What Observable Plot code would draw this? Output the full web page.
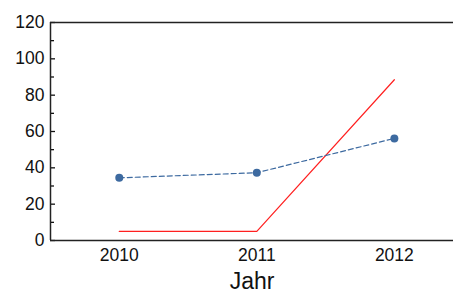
<!DOCTYPE html>
<html>
<head>
<meta charset="utf-8">
<script src="https://cdn.jsdelivr.net/npm/d3@7"></script>
<script src="https://cdn.jsdelivr.net/npm/@observablehq/plot@0.6"></script>
<style>
  html, body { margin: 0; padding: 0; background: #fff; }
  #chart svg { display: block; }
</style>
</head>
<body>
<div id="chart"></div>
<script>
const years = [2010, 2011, 2012];
const blueValues = [34.5, 37.3, 56.2];
const redValues = [5, 5, 88.5];
const yMajorTicks = [0, 20, 40, 60, 80, 100, 120];
const yMinorTicks = [10, 30, 50, 70, 90, 110];

const blue = years.map((year, i) => ({year, value: blueValues[i]}));
const red = years.map((year, i) => ({year, value: redValues[i]}));

const font = "Liberation Sans, Arial, sans-serif";

const chart = Plot.plot({
  width: 453,
  height: 293,
  marginLeft: 50,
  marginRight: 0,
  marginTop: 22,
  marginBottom: 53,
  style: {fontFamily: font, fontSize: "17px", color: "#111", background: "#fff"},
  x: {domain: [2009.5, 2012.43]},
  y: {domain: [0, 120]},
  marks: [
    Plot.axisY(yMajorTicks, {tickSize: 0, tickPadding: 6, label: null, fontSize: 17.5, tickFormat: d => String(d)}),
    Plot.axisY(yMajorTicks, {tickSize: -5, text: null, label: null, strokeWidth: 1.3}),
    Plot.axisY(yMinorTicks, {tickSize: -4, text: null, label: null, strokeWidth: 1.3}),
    Plot.axisX(years, {tickSize: 0, tickPadding: 8, label: null, fontSize: 17.5, tickFormat: d => String(d)}),
    Plot.ruleY([0], {stroke: "#222", strokeWidth: 1.5}),
    Plot.ruleY([120], {stroke: "#222", strokeWidth: 1.5}),
    Plot.ruleX([2009.5], {stroke: "#222", strokeWidth: 1.5}),
    Plot.line(red, {x: "year", y: "value", stroke: "#ff2020", strokeWidth: 1.2}),
    Plot.line(blue, {x: "year", y: "value", stroke: "#3d6aa0", strokeWidth: 1.2, strokeDasharray: "5,3"}),
    Plot.dot(blue, {x: "year", y: "value", fill: "#3d6aa0", r: 4}),
    Plot.text(["Jahr"], {frameAnchor: "bottom", dy: 48, fontSize: 23, fill: "#111"})
  ]
});

document.getElementById("chart").appendChild(chart);
</script>
</body>
</html>
